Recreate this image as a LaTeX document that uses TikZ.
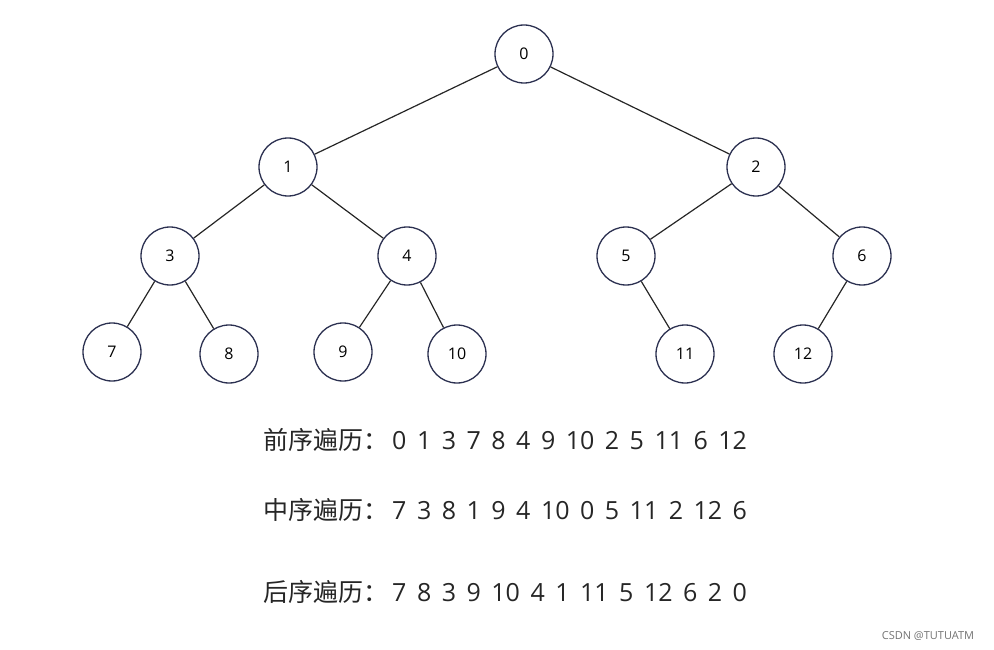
\documentclass[tikz,border=0pt]{standalone}
\usepackage{fontspec}
\setmainfont{Open Sans}
\newfontfamily\cjk{Noto Sans CJK SC}
\definecolor{ring}{HTML}{2B3050}
\begin{document}
\begin{tikzpicture}[x=1pt,y=-1pt,
  tn/.style={circle,draw=ring,line width=1.3pt,minimum size=58pt,inner sep=0pt,font=\fontsize{16}{16}\selectfont},
  ed/.style={draw=black!85,line width=1.2pt},
  tx/.style={anchor=west,inner sep=0pt,font=\fontsize{25}{25}\selectfont,text=black!85}]
\useasboundingbox (0,0) rectangle (994,650);
\node[tn] (n0) at (524,54) {0};
\node[tn] (n1) at (288,167) {1};
\node[tn] (n2) at (756,167) {2};
\node[tn] (n3) at (170,256) {3};
\node[tn] (n4) at (407,256) {4};
\node[tn] (n5) at (626,256) {5};
\node[tn] (n6) at (862,256) {6};
\node[tn] (n7) at (112,352) {7};
\node[tn] (n8) at (229,354) {8};
\node[tn] (n9) at (343,352) {9};
\node[tn] (n10) at (457,354) {10};
\node[tn] (n11) at (685,354) {11};
\node[tn] (n12) at (803,354) {12};
\foreach \a/\b in {n0/n1,n0/n2,n1/n3,n1/n4,n2/n5,n2/n6,n3/n7,n3/n8,n4/n9,n4/n10,n5/n11,n6/n12}
  \draw[ed] (\a) -- (\b);
\node[tx] (t1) at (263,440) {{\cjk 前序遍历：}\hspace{4pt}\spaceskip=10.5pt 0 1 3 7 8 4 9 10 2 5 11 6 12};
\node[tx] (t2) at (263,510) {{\cjk 中序遍历：}\hspace{4pt}\spaceskip=10.5pt 7 3 8 1 9 4 10 0 5 11 2 12 6};
\node[tx] (t3) at (263,592) {{\cjk 后序遍历：}\hspace{4pt}\spaceskip=10.5pt 7 8 3 9 10 4 1 11 5 12 6 2 0};
\node[font=\fontsize{11}{11}\selectfont,text=black!55] (wm) at (928,636) {CSDN @TUTUATM};
\end{tikzpicture}
\end{document}
